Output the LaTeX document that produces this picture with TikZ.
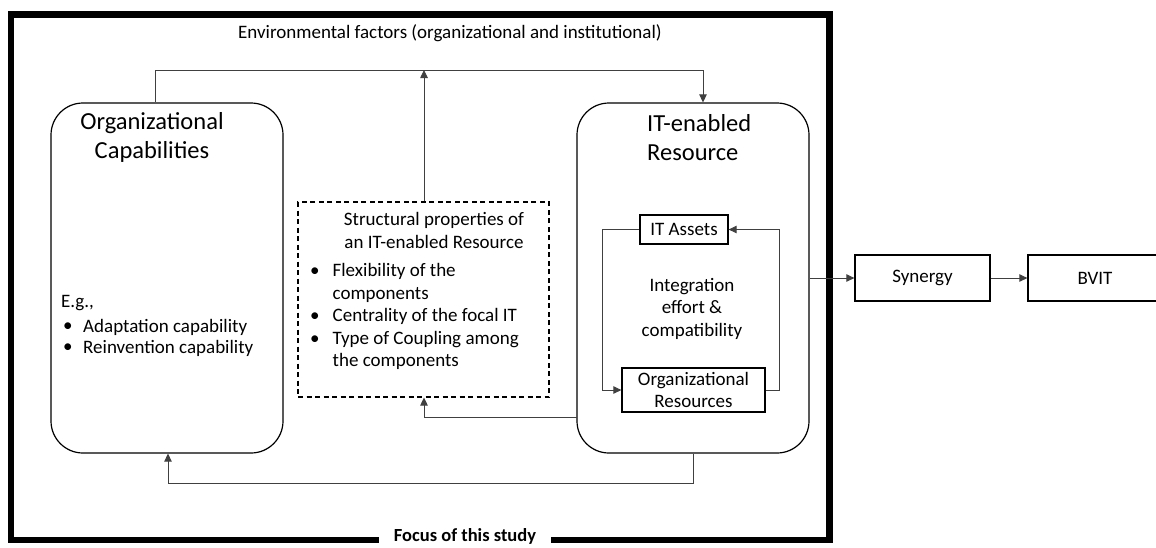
\documentclass[tikz,border=0pt]{standalone}
\usepackage{fontspec}
\setmainfont{Carlito}
\usetikzlibrary{arrows.meta,calc}
\tikzset{
  bigbox/.style={draw, line width=1.2pt, rounded corners=32pt, minimum width=232pt, minimum height=350pt, inner sep=0pt},
  smallbox/.style={draw, line width=1.3pt, inner sep=0pt, font=\fontsize{19}{22}\selectfont, align=center},
  dashbox/.style={draw, dashed, dash pattern=on 5pt off 3.5pt, line width=1.1pt, minimum width=251pt, minimum height=195pt, inner sep=0pt},
  conn/.style={draw=black!75, line width=0.9pt},
  arr/.style={conn, -{Triangle[length=8pt,width=7.5pt]}},
  body/.style={font=\fontsize{19}{22.5}\selectfont, inner sep=0pt},
  title/.style={font=\fontsize{24.5}{29}\selectfont, inner sep=0pt},
}
\begin{document}
\begin{tikzpicture}[x=1pt,y=-1pt]
\useasboundingbox (0,0) rectangle (1156,547);
% outer frame
\draw[line width=6.5pt] (11,14.5) rectangle (829.5,540);
\node[fill=white, inner xsep=15pt, inner ysep=1pt, font=\fontsize{18.5}{22}\selectfont\bfseries] (focus) at (465,536.5) {Focus of this study};
\node[body] (env) at (450,33) {Environmental factors (organizational and institutional)};

% main boxes
\node[bigbox] (org) at (167,278) {};
\node[title, align=center] (orgt) at (152,137.5) {Organizational\\Capabilities};
\node[body, anchor=west, align=left] (eg) at (61,303) {E.g.,};
\node[body, anchor=west] (b1d) at (63,327) {•};
\node[body, anchor=west] (b1) at (83,327) {Adaptation capability};
\node[body, anchor=west] (b2d) at (63,348) {•};
\node[body, anchor=west] (b2) at (83,348) {Reinvention capability};

\node[bigbox] (it) at (693,278) {};
\node[title, align=left, anchor=west] (itt) at (647,137.5) {IT-enabled\\Resource};

\node[dashbox] (dash) at (423.5,299.5) {};
\node[body, align=center] (dasht) at (434,230.5) {Structural properties of\\an IT-enabled Resource};
\node[body, anchor=north west, align=left] (dashl) at (310,261) {%
  \begin{tabular}{@{}l@{\hspace{13pt}}l@{}}
  • & Flexibility of the\\
    & components\\
  • & Centrality of the focal IT\\
  • & Type of Coupling among\\
    & the components
  \end{tabular}};

% inner boxes
\node[smallbox, minimum width=88pt, minimum height=29pt] (assets) at (684,229.5) {IT Assets};
\node[smallbox, minimum width=143pt, minimum height=44pt, font=\fontsize{19}{22}\selectfont] (orgres) at (693.5,390) {Organizational\\Resources};
\node[body, align=center] (integ) at (692,308.5) {Integration\\effort \&\\compatibility};

% outcome boxes
\node[smallbox, minimum width=135pt, minimum height=46pt] (syn) at (922.5,278) {Synergy};
\node[smallbox, minimum width=134pt, minimum height=46pt] (bvit) at (1095,278) {BVIT};

% connectors
\coordinate (topl) at (155,70);
\coordinate (topr) at (703,70);
\coordinate (topm) at (424,70);
\draw[arr] (org.north -| topl) -- (topl) -- (topr) -- (it.north -| topr);
\draw[arr] (dash.north -| topm) -- (topm);

\coordinate (midr) at (577,417);
\coordinate (midl) at (424,417);
\draw[arr] (midr) -- (midl) -- (dash.south -| midl);

\coordinate (botr) at (693,483);
\coordinate (botl) at (168,483);
\draw[arr] (it.south) -- (botr) -- (botl) -- (org.south -| botl);

\coordinate (loopl) at (602,229.5);
\coordinate (loopr) at (779,229.5);
\draw[arr] (assets.west) -- (loopl) -- (loopl |- orgres.west) -- (orgres.west);
\draw[arr] (orgres.east) -- (orgres.east -| loopr) -- (loopr) -- (assets.east);

\draw[arr] (it.east |- syn.west) -- (syn.west);
\draw[arr] (syn.east) -- (bvit.west);
\end{tikzpicture}
\end{document}
